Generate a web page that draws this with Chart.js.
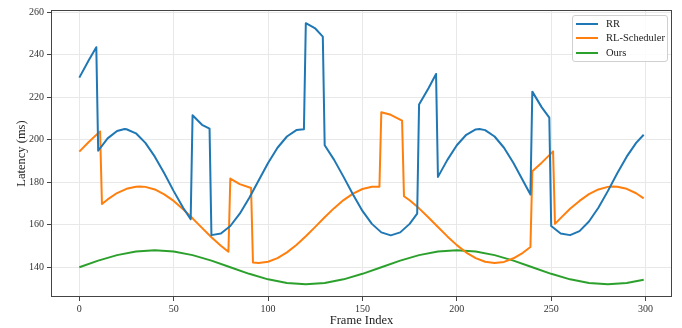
<!DOCTYPE html>
<html>
<head>
<meta charset="utf-8">
<script src="https://cdn.jsdelivr.net/npm/chart.js@4.4.1/dist/chart.umd.min.js"></script>
<style>
  html, body { margin: 0; padding: 0; background: #fff; }
  #wrap { position: relative; width: 682px; height: 328px; }
  #legend {
    position: absolute; left: 572px; top: 15px; width: 94px; height: 45px;
    border: 1px solid #d0d0d0; border-radius: 3px; background: rgba(255,255,255,0.85);
    font-family: "Liberation Serif", serif; font-size: 10.5px; color: #222;
  }
  .item { position: absolute; left: 0; height: 14px; line-height: 14px; white-space: nowrap; }
  .item i { position: absolute; left: 3px; top: 6px; width: 22px; height: 2px; }
  .item span { position: absolute; left: 33px; top: 0; }
</style>
</head>
<body>
<div id="wrap">
  <canvas id="myChart" width="682" height="328"></canvas>
  <div id="legend"></div>
</div>
<script>
// series
var seriesNames = ['RR', 'RL-Scheduler', 'Ours'];
var seriesColors = ['#1f77b4', '#ff7f0e', '#2ca02c'];

var rrFrames = [0,5,9,10,15,20,24,25,30,35,40,45,50,55,59,60,65,69,70,75,80,85,90,95,100,105,110,115,119,120,125,129,130,135,140,145,150,155,160,165,170,175,179,180,185,189,190,195,200,205,210,212,215,220,225,230,235,239,240,245,249,250,255,260,265,270,275,280,285,290,295,299];
var rrLatency = [229.2,237.4,243.5,194.8,200.6,204.1,205.0,204.9,203.0,198.5,192.0,184.2,175.8,168.0,162.6,211.5,207.0,205.2,155.1,155.9,159.4,165.2,172.6,180.8,189.0,196.2,201.5,204.5,204.9,254.8,252.3,248.5,197.4,190.5,182.5,174.2,166.5,160.4,156.4,155.0,156.4,160.4,165.2,216.6,224.2,230.9,182.5,190.5,197.4,202.3,204.8,205.0,204.5,201.5,196.2,189.0,180.8,174.2,222.6,215.2,210.4,159.4,155.9,155.1,157.0,161.5,168.0,175.8,184.2,192.0,198.5,202.3];

var rlFrames = [0,5,11,12,15,20,25,30,32,35,40,45,50,55,60,65,70,75,79,80,85,91,92,95,100,105,110,115,120,125,130,135,140,145,150,155,159,160,165,171,172,175,180,185,190,195,200,205,210,215,220,225,230,235,239,240,245,251,252,255,260,265,270,275,280,283,285,290,295,299];
var rlLatency = [194.4,198.9,203.9,169.7,171.9,174.9,176.9,177.9,178.0,177.8,176.6,174.3,171.2,167.3,163.0,158.5,154.1,150.1,147.3,181.7,179.1,177.3,142.2,142.0,142.6,144.3,147.0,150.5,154.6,159.0,163.5,167.8,171.6,174.6,176.8,177.9,177.9,212.9,211.7,209.0,173.4,171.5,167.7,163.4,158.9,154.5,150.4,146.9,144.3,142.6,142.0,142.5,144.2,146.8,149.5,185.2,189.2,194.5,160.4,163.1,167.5,171.2,174.4,176.6,177.8,178.0,177.9,176.9,174.8,172.4];

var oursFrames = [0,10,20,30,40,50,60,70,80,90,100,110,120,130,140,150,160,170,180,190,200,210,220,230,240,250,260,270,280,290,299];
var oursLatency = [140,143.1,145.7,147.4,148,147.4,145.7,143.1,140,136.9,134.3,132.6,132,132.6,134.3,136.9,140,143.1,145.7,147.4,148,147.4,145.7,143.1,140,136.9,134.3,132.6,132,132.6,134.1];

var xTicks = [0, 50, 100, 150, 200, 250, 300];
var yTicks = [140, 160, 180, 200, 220, 240, 260];

function pts(xs, ys) {
    return xs.map(function (x, i) { return { x: x, y: ys[i] }; });
}

var allFrames = [rrFrames, rlFrames, oursFrames];
var allLatency = [rrLatency, rlLatency, oursLatency];

var datasets = seriesNames.map(function (name, i) {
    return {
        label: name,
        data: pts(allFrames[i], allLatency[i]),
        borderColor: seriesColors[i],
        backgroundColor: seriesColors[i],
        borderWidth: 2,
        pointRadius: 0,
        tension: 0,
        borderJoinStyle: 'round',
        fill: false
    };
});

// html legend
var legend = document.getElementById('legend');
seriesNames.forEach(function (name, i) {
    var d = document.createElement('div');
    d.className = 'item';
    d.style.top = (1 + i * 14.3) + 'px';
    d.innerHTML = '<i style="background:' + seriesColors[i] + '"></i><span>' + name + '</span>';
    legend.appendChild(d);
});

var frameBox = {
    id: 'frameBox',
    afterDraw: function (chart) {
        var a = chart.chartArea, c = chart.ctx;
        c.save();
        c.strokeStyle = '#444';
        c.lineWidth = 1;
        c.strokeRect(a.left + 0.5, a.top + 0.5, a.right - a.left - 1, a.bottom - a.top - 1);
        c.restore();
    }
};

var tickFont = { family: 'Liberation Serif', size: 10 };
var titleFont = { family: 'Liberation Serif', size: 12.5 };

var ctx = document.getElementById('myChart').getContext('2d');
var chart = new Chart(ctx, {
    type: 'line',
    data: { datasets: datasets },
    plugins: [frameBox],
    options: {
        responsive: false,
        animation: false,
        layout: { padding: { top: 10, right: 10, left: 0, bottom: 0 } },
        plugins: { legend: { display: false }, tooltip: { enabled: false } },
        scales: {
            x: {
                type: 'linear',
                min: -15,
                max: 314,
                afterBuildTicks: function (s) { s.ticks = xTicks.map(function (v) { return { value: v }; }); },
                afterFit: function (s) { s.height = 31; },
                grid: { color: '#e8e8e8', tickColor: '#444', tickLength: 4 },
                border: { display: false },
                ticks: { font: tickFont, color: '#333', padding: 2, maxRotation: 0 },
                title: { display: true, text: 'Frame Index', font: titleFont, color: '#222', padding: 0 }
            },
            y: {
                min: 126,
                max: 261,
                afterBuildTicks: function (s) { s.ticks = yTicks.map(function (v) { return { value: v }; }); },
                afterFit: function (s) { s.width = 51; },
                grid: { color: '#e8e8e8', tickColor: '#444', tickLength: 4 },
                border: { display: false },
                ticks: { font: tickFont, color: '#333', padding: 3 },
                title: { display: true, text: 'Latency (ms)', font: titleFont, color: '#222', padding: { top: 14, bottom: 0 } }
            }
        }
    }
});
</script>
</body>
</html>
